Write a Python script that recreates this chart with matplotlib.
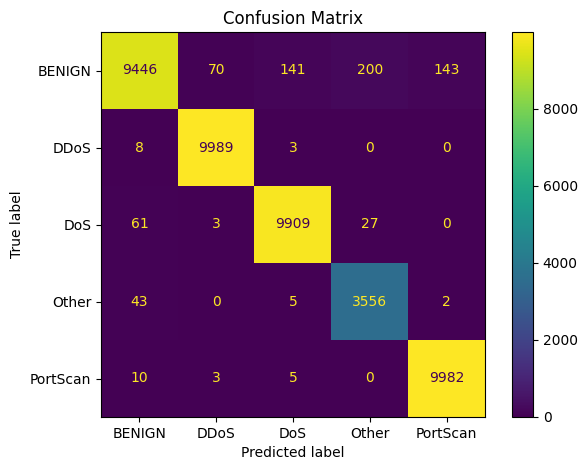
import matplotlib
matplotlib.use("Agg")
import matplotlib.pyplot as plt
import numpy as np

labels = ["BENIGN", "DDoS", "DoS", "Other", "PortScan"]
row_benign = [9446, 70, 141, 200, 143]
row_ddos = [8, 9989, 3, 0, 0]
row_dos = [61, 3, 9909, 27, 0]
row_other = [43, 0, 5, 3556, 2]
row_portscan = [10, 3, 5, 0, 9982]

cm = np.array([row_benign, row_ddos, row_dos, row_other, row_portscan])

W, H = 586, 470
fig = plt.figure(figsize=(W / 100, H / 100), dpi=100)
ax = fig.add_axes([101 / W, 1 - 417 / H, 384 / W, 385 / H])
cax = fig.add_axes([512 / W, 1 - 417 / H, 21 / W, 385 / H])

cmap = plt.get_cmap("viridis")
im = ax.imshow(cm, interpolation="nearest", cmap=cmap, aspect="auto")
cmap_min, cmap_max = cmap(0.0), cmap(1.0)
thresh = (cm.max() + cm.min()) / 2.0
n = len(labels)
for i in range(n):
    for j in range(n):
        color = cmap_max if cm[i, j] < thresh else cmap_min
        ax.text(j, i, format(cm[i, j], "d"), ha="center", va="center", color=color, fontsize=10)

fig.colorbar(im, cax=cax)
ax.set_xticks(np.arange(n))
ax.set_yticks(np.arange(n))
ax.set_xticklabels(labels)
ax.set_yticklabels(labels)
ax.set_xlabel("Predicted label")
ax.set_ylabel("True label")
ax.set_title("Confusion Matrix")
ax.set_ylim(n - 0.5, -0.5)

fig.savefig("out.png", dpi=100)
